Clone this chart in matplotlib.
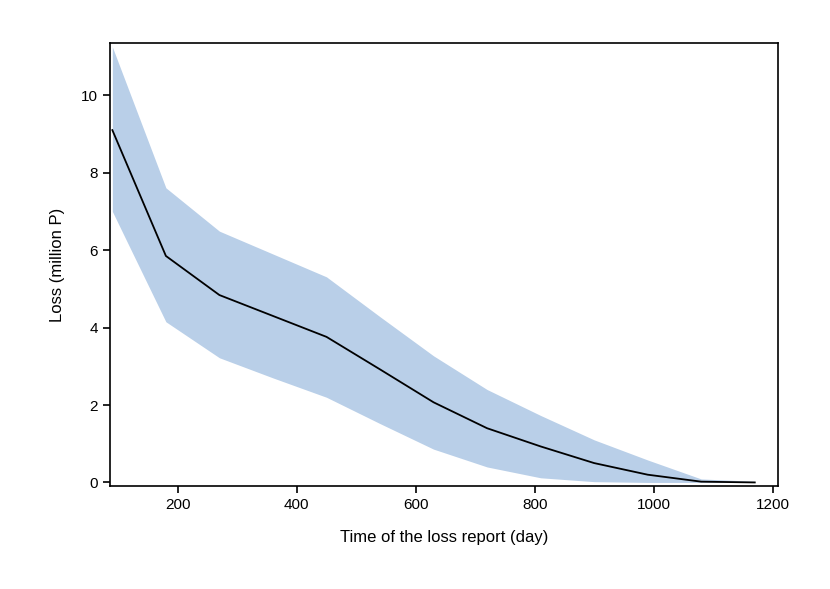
import matplotlib
matplotlib.use("Agg")

import matplotlib.pyplot as plt
import numpy as np

# ── Data ───────────────────────────────────────────────────────────────
days = [90, 180, 270, 360, 450, 540, 630, 720, 810, 900, 990, 1080, 1170]
loss_mean = [9.1, 5.85, 4.84, 4.3, 3.76, 2.92, 2.07, 1.4, 0.93, 0.5, 0.2, 0.02, 0.0]
loss_upper = [11.25, 7.61, 6.49, 5.9, 5.31, 4.28, 3.27, 2.4, 1.73, 1.1, 0.58, 0.09, 0.03]
loss_lower = [7.0, 4.15, 3.22, 2.7, 2.2, 1.52, 0.86, 0.4, 0.12, 0.02, 0.0, 0.0, 0.0]

plt.rcParams["font.family"] = ["Liberation Sans", "DejaVu Sans"]

fig = plt.figure(figsize=(8.3, 5.89), dpi=100)
ax = fig.add_axes([0.1325, 0.175, 0.8048, 0.752])

ax.fill_between(days, loss_lower, loss_upper, color="#b9cfe8", linewidth=0)
ax.plot(days, loss_mean, color="black", linewidth=1.3)

ax.set_xlim(86, 1209)
ax.set_ylim(-0.09, 11.35)
ax.set_xticks([200, 400, 600, 800, 1000, 1200])
ax.set_yticks([0, 2, 4, 6, 8, 10])

for s in ax.spines.values():
    s.set_linewidth(1.2)
ax.tick_params(direction="out", length=5, width=1.2, labelsize=11)

ax.set_xlabel("Time of the loss report (day)", fontsize=12, labelpad=13)
ax.set_ylabel("Loss (million P)", fontsize=12, labelpad=12)

fig.savefig("out.png", dpi=100)
